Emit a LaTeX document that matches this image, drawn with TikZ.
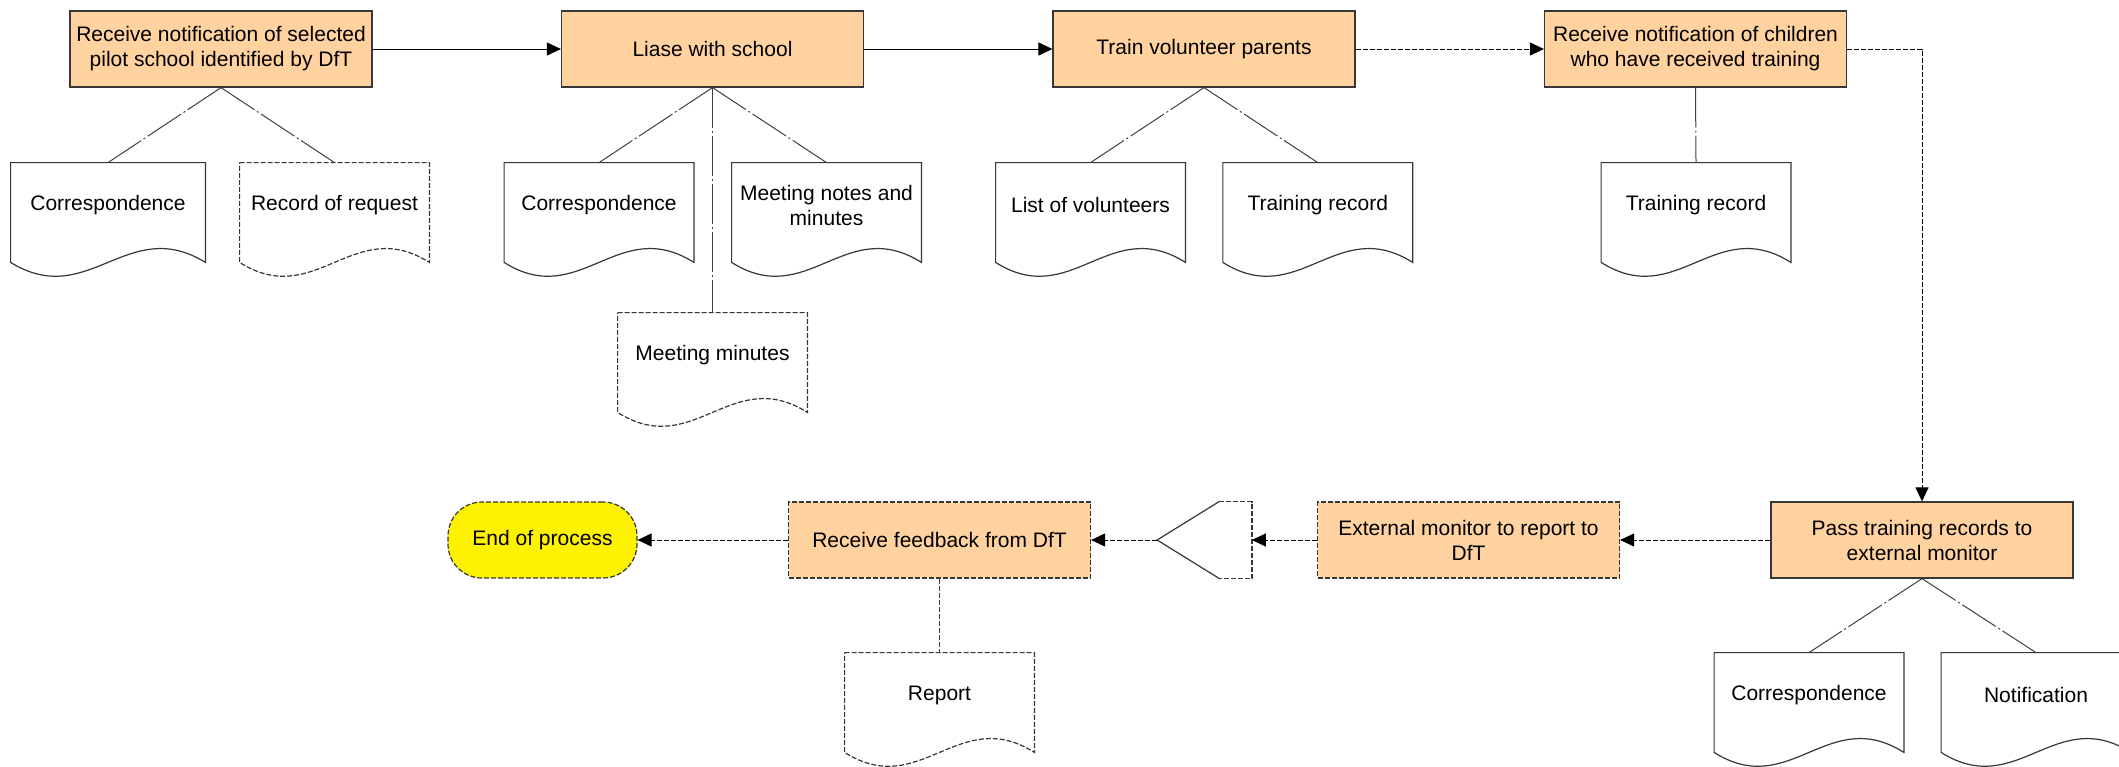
\documentclass[tikz,border=0pt]{standalone}
\usepackage{fontspec}
\setmainfont{Liberation Sans}
\usetikzlibrary{arrows.meta,calc}
\definecolor{peach}{RGB}{255,210,160}
\definecolor{edgegray}{RGB}{55,55,55}
\newcommand\docoutline[2][]{%
  \draw[docborder,#1] (#2.north west) -- (#2.north east) -- (#2.south east)
    .. controls ($(#2.south west)!0.6!(#2.south east)+(0,-48)$) and ($(#2.south west)!0.4!(#2.south east)+(0,48)$) .. (#2.south west) -- cycle;}
\begin{document}
\begin{tikzpicture}[x=0.5pt,y=-0.5pt,
  every node/.style={font=\fontsize{10.5}{12.5}\selectfont},
  proc/.style={draw=edgegray, fill=peach, line width=0.6pt, minimum width=151pt, minimum height=38pt, inner sep=1pt, align=center},
  finedash/.style={dash pattern=on 2.5pt off 1pt},
  endst/.style={draw=edgegray, fill=yellow, line width=0.6pt, finedash, rounded corners=17pt, minimum width=94.5pt, minimum height=38pt, inner sep=1pt},
  doc/.style={minimum width=94.5pt, minimum height=49.5pt, inner sep=0pt, label={[align=center, yshift=3.75pt, font=\fontsize{10.5}{12.5}\selectfont]center:#1}},
  docborder/.style={draw=edgegray, line width=0.6pt},
  tri/.style={minimum width=47pt, minimum height=38pt, inner sep=0pt},
  link/.style={draw=black!75, line width=0.5pt, dash pattern=on 20pt off 1.5pt on 1pt off 1.5pt},
  flow/.style={draw=black, line width=0.5pt, -{Triangle[length=7pt,width=6.5pt]}},
  dflow/.style={flow, finedash}
]
\useasboundingbox (0,0) rectangle (2119,766);
\fill[white] (0,0) rectangle (2119,766);

% process boxes
\node[proc] (b1) at (221,49) {Receive notification of selected\\pilot school identified by DfT};
\node[proc] (b2) at (712.5,49) {Liase with school};
\node[proc] (b3) at (1204,49) {Train volunteer parents};
\node[proc] (b4) at (1695.5,49) {Receive notification of children\\who have received training};
\node[proc] (pass) at (1922,540) {Pass training records to\\external monitor};
\node[proc, finedash] (ext) at (1468.5,540) {External monitor to report to\\DfT};
\node[proc, finedash] (fb) at (939.5,540) {Receive feedback from DfT};
\node[endst] (end) at (542.5,540) {End of process};
\node[tri] (tri) at (1204.5,540) {};

% documents
\node[doc={Correspondence}, minimum width=97pt] (d1) at (108,212.5) {};
\node[doc={Record of request}] (d2) at (334.5,212.5) {};
\node[doc={Correspondence}] (d3) at (599,212.5) {};
\node[doc={Meeting notes and\\minutes}] (d4) at (826.5,212.5) {};
\node[doc={Meeting minutes}] (d5) at (712.5,362.5) {};
\node[doc={List of volunteers}] (d6) at (1090.5,212.5) {};
\node[doc={Training record}] (d7) at (1317.75,212.5) {};
\node[doc={Training record}] (d8) at (1696,212.5) {};
\node[doc={Report}] (d9) at (939.5,702.5) {};
\node[doc={Correspondence}] (d10) at (1809,702.5) {};
\node[doc={Notification}] (d11) at (2036,702.5) {};

\docoutline{d1}
\docoutline[finedash]{d2}
\docoutline{d3}
\docoutline{d4}
\docoutline[finedash]{d5}
\docoutline{d6}
\docoutline{d7}
\docoutline{d8}
\docoutline[finedash]{d9}
\docoutline{d10}
\docoutline{d11}

% merge/triangle shape
\draw[edgegray, line width=0.6pt] ($(tri.north west)+(62,0)$) -- (tri.west) -- ($(tri.south west)+(62,0)$);
\draw[edgegray, line width=0.6pt, finedash] ($(tri.north west)+(62,0)$) -- (tri.north east) -- (tri.south east) -- ($(tri.south west)+(62,0)$);

% document links
\draw[link] (b1.south) -- (d1.north);
\draw[link] (b1.south) -- (d2.north);
\draw[link] (b2.south) -- (d3.north);
\draw[link] (b2.south) -- (d4.north);
\draw[link] (b2.south) -- (d5.north);
\draw[link] (b3.south) -- (d6.north);
\draw[link] (b3.south) -- (d7.north);
\draw[link] (b4.south) -- (d8.north);
\draw[draw=black!75, line width=0.5pt, finedash] (fb.south) -- (d9.north);
\draw[link] (pass.south) -- (d10.north);
\draw[link] (pass.south) -- (d11.north);

% flow
\draw[flow] (b1.east) -- (b2.west);
\draw[flow] (b2.east) -- (b3.west);
\draw[dflow] (b3.east) -- (b4.west);
\draw[dflow] (b4.east) -| (pass.north);
\draw[dflow] (pass.west) -- (ext.east);
\draw[dflow] (ext.west) -- (tri.east);
\draw[dflow] (tri.west) -- (fb.east);
\draw[dflow] (fb.west) -- (end.east);
\end{tikzpicture}
\end{document}
